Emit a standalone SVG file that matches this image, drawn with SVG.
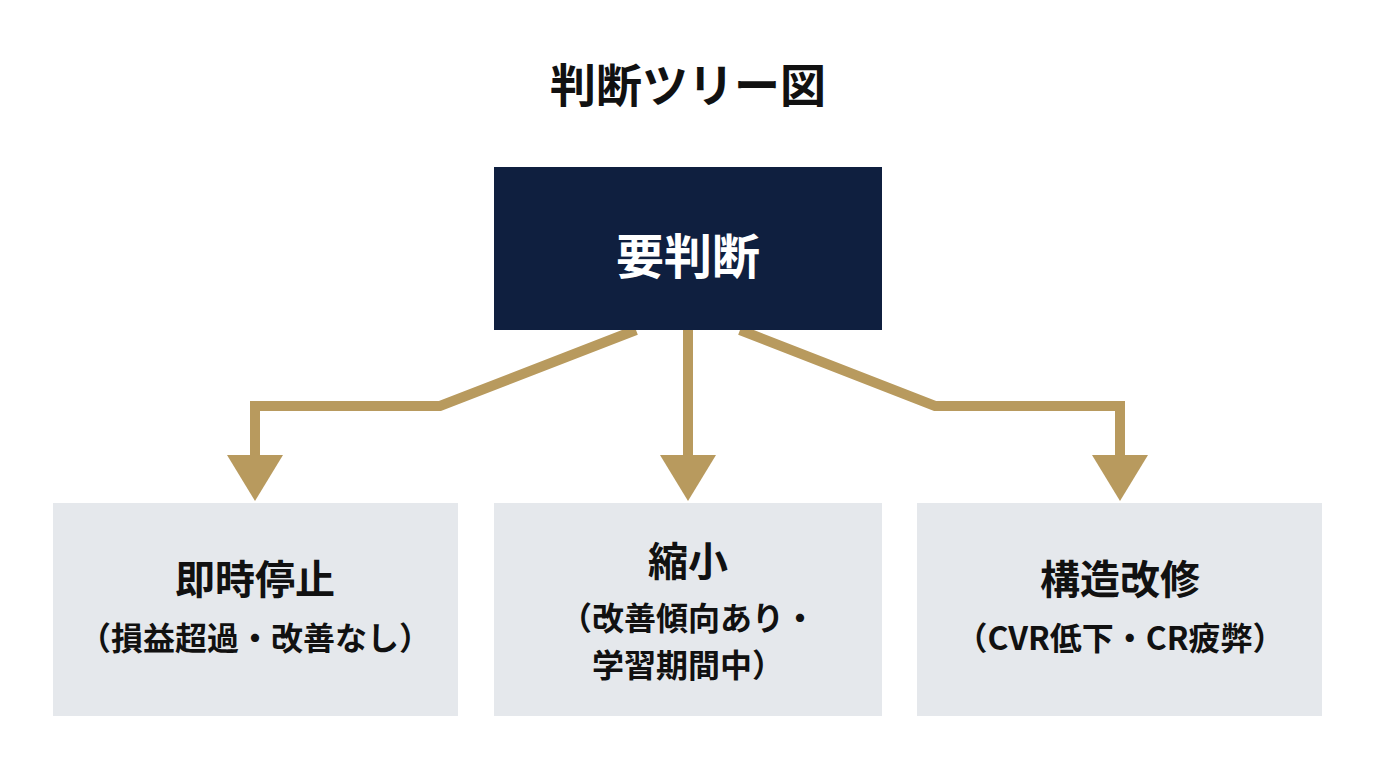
<svg xmlns="http://www.w3.org/2000/svg" width="1376" height="768" viewBox="0 0 1376 768">
<style>
text{font-family:"Noto Sans CJK JP","Noto Sans",sans-serif;font-weight:bold;text-anchor:middle;fill:#111}
.sub{font-size:32px;font-weight:600}
.main{font-size:40px}
.box{fill:#e5e8ec}
.ln{fill:none;stroke:#b89a5e;stroke-width:10}
.ah{fill:#b89a5e}
</style>
<rect width="1376" height="768" fill="#fff"/>
<text x="688" y="102" font-size="46">判断ツリー図</text>
<g id="connectors">
<polyline class="ln" points="636,330 440,406 255,406 255,458"/>
<polygon class="ah" points="227,455 283,455 255,501"/>
<polyline class="ln" points="688,330 688,458"/>
<polygon class="ah" points="660,455 716,455 688,501"/>
<polyline class="ln" points="740,330 935,406 1120,406 1120,458"/>
<polygon class="ah" points="1092,455 1148,455 1120,501"/>
</g>
<g id="root">
<rect x="494" y="167" width="388" height="163" fill="#0f1f3f"/>
<text x="688" y="274" font-size="48" style="fill:#fff">要判断</text>
</g>
<g id="stop">
<rect class="box" x="53" y="503" width="405" height="213"/>
<text class="main" x="255" y="594">即時停止</text>
<text class="sub" x="255" y="650">（損益超過・改善なし）</text>
</g>
<g id="shrink">
<rect class="box" x="494" y="503" width="388" height="213"/>
<text class="main" x="688" y="576">縮小</text>
<text class="sub" x="688" y="630">（改善傾向あり・</text>
<text class="sub" x="688" y="677">学習期間中）</text>
</g>
<g id="rebuild">
<rect class="box" x="917" y="503" width="405" height="213"/>
<text class="main" x="1120" y="594">構造改修</text>
<text class="sub" x="1120" y="650">（CVR低下・CR疲弊）</text>
</g>
</svg>
